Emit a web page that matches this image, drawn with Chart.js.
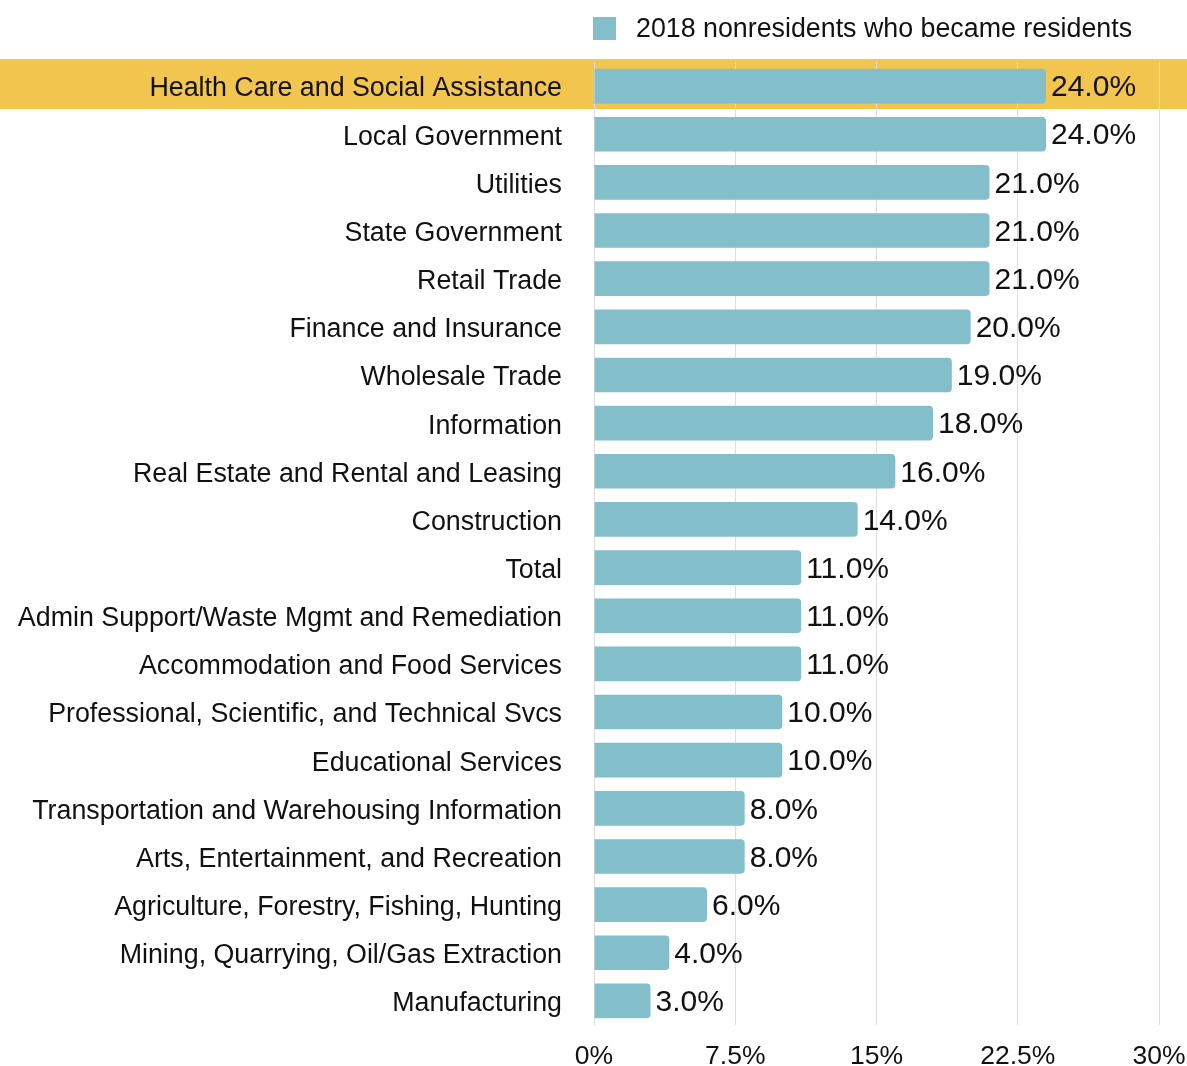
<!DOCTYPE html>
<html>
<head>
<meta charset="utf-8">
<script src="https://cdn.jsdelivr.net/npm/chart.js@4.4.1/dist/chart.umd.min.js"></script>
<style>
  html, body { margin: 0; padding: 0; background: #fff; }
  #wrap { width: 1187px; height: 1066px; position: relative; }
</style>
</head>
<body>
<div id="wrap"><canvas id="barChart"></canvas></div>
<script>
const categories = [
    'Health Care and Social Assistance',
    'Local Government',
    'Utilities',
    'State Government',
    'Retail Trade',
    'Finance and Insurance',
    'Wholesale Trade',
    'Information',
    'Real Estate and Rental and Leasing',
    'Construction',
    'Total',
    'Admin Support/Waste Mgmt and Remediation',
    'Accommodation and Food Services',
    'Professional, Scientific, and Technical Svcs',
    'Educational Services',
    'Transportation and Warehousing Information',
    'Arts, Entertainment, and Recreation',
    'Agriculture, Forestry, Fishing, Hunting',
    'Mining, Quarrying, Oil/Gas Extraction',
    'Manufacturing'
];
const becameResidents = [24, 24, 21, 21, 21, 20, 19, 18, 16, 14, 11, 11, 11, 10, 10, 8, 8, 6, 4, 3];
const seriesLabel = '2018 nonresidents who became residents';
const xTicks = [0, 7.5, 15, 22.5, 30];
const highlightIndex = 0;

const FONT = '"Liberation Sans", Arial, Helvetica, sans-serif';
const BAR_COLOR = '#82bfca';

// yellow band behind the highlighted row (full canvas width)
const highlightBand = {
    id: 'highlightBand',
    beforeDraw(chart) {
        const y = chart.scales.y;
        const c = y.getPixelForValue(highlightIndex);
        const ctx = chart.ctx;
        ctx.save();
        ctx.fillStyle = '#f2c54f';
        ctx.fillRect(0, c - 27, chart.width, 50);
        ctx.restore();
    }
};

// value labels at bar ends + legend at the top
const barLabels = {
    id: 'barLabels',
    afterDatasetsDraw(chart) {
        const ctx = chart.ctx;
        const meta = chart.getDatasetMeta(0);
        ctx.save();
        ctx.font = '30px ' + FONT;
        ctx.fillStyle = '#111';
        ctx.textBaseline = 'middle';
        ctx.textAlign = 'left';
        meta.data.forEach((bar, i) => {
            ctx.fillText(becameResidents[i].toFixed(1) + '%', bar.x + 5, bar.y + 2);
        });

        // legend
        ctx.fillStyle = BAR_COLOR;
        ctx.fillRect(593, 17, 23, 23);
        ctx.fillStyle = '#111';
        ctx.font = '26.8px ' + FONT;
        ctx.fillText(chart.data.datasets[0].label, 636, 30);
        ctx.restore();
    }
};

new Chart(document.getElementById('barChart'), {
    type: 'bar',
    data: {
        labels: categories,
        datasets: [{
            label: seriesLabel,
            data: becameResidents,
            backgroundColor: BAR_COLOR,
            borderRadius: 4,
            borderSkipped: 'start',
            categoryPercentage: 1,
            barPercentage: 0.72
        }]
    },
    options: {
        indexAxis: 'y',
        responsive: true,
        maintainAspectRatio: false,
        animation: false,
        layout: { padding: { top: 62, right: 28, bottom: 0, left: 0 } },
        plugins: {
            legend: { display: false },
            tooltip: { enabled: false }
        },
        scales: {
            x: {
                min: 0,
                max: 30,
                afterBuildTicks: (scale) => { scale.ticks = xTicks.map(v => ({ value: v })); },
                afterFit: (scale) => {
                    scale.height = 41;
                    scale.paddingLeft = 0;
                    scale.paddingRight = 0;
                },
                grid: { color: '#dedede', lineWidth: 1, drawTicks: false },
                border: { display: false },
                ticks: {
                    padding: 16,
                    color: '#111',
                    font: { family: FONT, size: 26.5 },
                    callback: (v) => v + '%'
                }
            },
            y: {
                afterFit: (scale) => {
                    scale.width = 594;
                    scale.paddingTop = 0;
                    scale.paddingBottom = 0;
                },
                grid: { display: false, drawTicks: false },
                border: { display: false },
                ticks: {
                    padding: 32,
                    labelOffset: 3,
                    color: '#111',
                    font: { family: FONT, size: 26.8 }
                }
            }
        }
    },
    plugins: [highlightBand, barLabels]
});
</script>
</body>
</html>
